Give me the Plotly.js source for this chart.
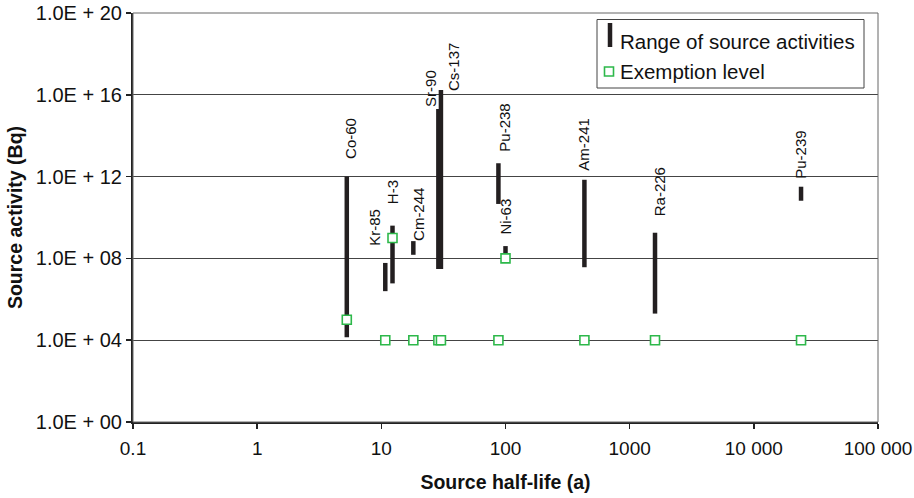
<!DOCTYPE html>
<html>
<head>
<meta charset="utf-8">
<script src="https://cdn.plot.ly/plotly-3.0.1.min.js"></script>
<style>html,body{margin:0;padding:0;background:#fff;}#chart{width:914px;height:498px;}</style>
</head>
<body>
<div id="chart"></div>
<script>
// Data
var nuclides   = ["Co-60", "Kr-85", "H-3", "Cm-244", "Sr-90", "Cs-137", "Pu-238", "Ni-63", "Am-241", "Ra-226", "Pu-239"];
var halfLife   = [5.27, 10.76, 12.3, 18.1, 28.8, 30.2, 87.7, 100, 432, 1600, 24000];
var activityLo = [1.4e4, 2.5e6, 6e6, 1.5e8, 3e7, 3e7, 4.6e10, 1e8, 3.7e7, 2e5, 6.6e10];
var activityHi = [1e12, 6e7, 4e9, 7e8, 2e15, 1.7e16, 4.5e12, 4e8, 7e11, 1.8e9, 3.2e11];
var exemption  = [1e5, 1e4, 1e9, 1e4, 1e4, 1e4, 1e4, 1e8, 1e4, 1e4, 1e4];

var xTickVals = [0.1, 1, 10, 100, 1000, 10000, 100000];
var xTickText = ["0.1", "1", "10", "100", "1000", "10 000", "100 000"];
var yTickVals = [1, 1e4, 1e8, 1e12, 1e16, 1e20];
var yTickText = ["1.0E + 00", "1.0E + 04", "1.0E + 08", "1.0E + 12", "1.0E + 16", "1.0E + 20"];

// label offsets (pixels) relative to top of each range bar
var labelShift = {
  "Co-60": [3, 16], "Kr-85": [-11, 15], "H-3": [0, 19], "Cm-244": [5, -2],
  "Sr-90": [-8, 0], "Cs-137": [12, -3], "Pu-238": [6, 10], "Ni-63": [0, 9],
  "Am-241": [-1, 7], "Ra-226": [4, 14], "Pu-239": [0, 6]
};

var FONT = "Liberation Sans, Arial, Helvetica, sans-serif";

var bx = [], by = [];
for (var i = 0; i < nuclides.length; i++) {
  bx.push(halfLife[i], halfLife[i], null);
  by.push(activityLo[i], activityHi[i], null);
}

var traces = [
  {
    x: bx, y: by, type: "scatter", mode: "lines",
    line: {color: "#231f20", width: 4.5},
    hoverinfo: "skip", showlegend: false, connectgaps: false
  },
  {
    x: halfLife, y: exemption, type: "scatter", mode: "markers",
    marker: {symbol: "square", size: 9, color: "#ffffff", line: {color: "#2db84a", width: 1.6}},
    showlegend: false, cliponaxis: false
  }
];

var annotations = nuclides.map(function (n, i) {
  var s = labelShift[n];
  return {
    x: Math.log10(halfLife[i]), y: Math.log10(activityHi[i]),
    xref: "x", yref: "y", text: n, showarrow: false, textangle: -90,
    xanchor: "center", yanchor: "bottom", xshift: s[0], yshift: s[1],
    font: {family: FONT, size: 15, color: "#111"}
  };
});

// custom legend
function px2x(p) { return (p - 133) / 745; }
function py2y(p) { return (422 - p) / 409; }
annotations.push({
  xref: "paper", yref: "paper", x: px2x(618), y: py2y(41.5), xanchor: "left", yanchor: "middle",
  text: "Range of source activities", showarrow: false, font: {family: FONT, size: 20.5, color: "#111"}
});
annotations.push({
  xref: "paper", yref: "paper", x: px2x(618), y: py2y(71.5), xanchor: "left", yanchor: "middle",
  text: "Exemption level", showarrow: false, font: {family: FONT, size: 20.5, color: "#111"}
});

var shapes = [
  {type: "rect", xref: "paper", yref: "paper", x0: 0, x1: 1, y0: 0, y1: 1,
   line: {color: "#666", width: 1}, layer: "above"},
  {type: "rect", xref: "paper", yref: "paper", x0: px2x(597), x1: px2x(864), y0: py2y(88), y1: py2y(19.5),
   fillcolor: "#ffffff", line: {color: "#444", width: 1}, layer: "above"},
  {type: "line", xref: "paper", yref: "paper", x0: px2x(610), x1: px2x(610), y0: py2y(47), y1: py2y(23),
   line: {color: "#231f20", width: 4.5}, layer: "above"},
  {type: "rect", xref: "paper", yref: "paper", x0: px2x(604.5), x1: px2x(613.5), y0: py2y(76), y1: py2y(67),
   fillcolor: "#ffffff", line: {color: "#2db84a", width: 1.6}, layer: "above"}
];

var layout = {
  width: 914, height: 498,
  margin: {l: 133, r: 36, t: 13, b: 76},
  paper_bgcolor: "#ffffff", plot_bgcolor: "#ffffff",
  showlegend: false,
  font: {family: FONT, size: 20, color: "#111"},
  xaxis: {
    type: "log", range: [-1, 5], tickvals: xTickVals, ticktext: xTickText,
    ticks: "outside", ticklen: 5, tickcolor: "#222", tickwidth: 1.5, ticklabelstandoff: 3,
    ticklabeloverflow: "allow",
    showline: true, linecolor: "#222", linewidth: 2, showgrid: false, zeroline: false,
    tickfont: {family: FONT, size: 19, color: "#111"},
    title: {text: "<b>Source half-life (a)</b>", font: {family: FONT, size: 19.5, color: "#111"}, standoff: 18}
  },
  yaxis: {
    type: "log", range: [0, 20], tickvals: yTickVals, ticktext: yTickText,
    ticks: "outside", ticklen: 5, tickcolor: "#222", tickwidth: 1.5,
    showline: true, linecolor: "#222", linewidth: 2,
    showgrid: true, gridcolor: "#444", gridwidth: 1, zeroline: false,
    tickfont: {family: FONT, size: 20, color: "#111"},
    title: {text: "<b>Source activity (Bq)</b>", font: {family: FONT, size: 19.5, color: "#111"}, standoff: 8}
  },
  annotations: annotations,
  shapes: shapes
};

Plotly.newPlot("chart", traces, layout, {displayModeBar: false, staticPlot: true});
</script>
</body>
</html>
